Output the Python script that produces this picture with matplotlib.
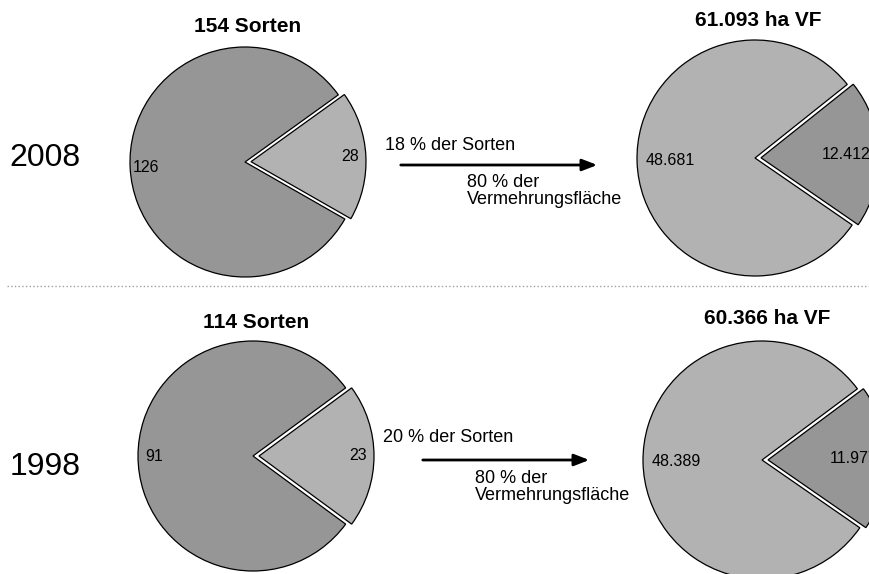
import matplotlib.pyplot as plt

plt.rcParams['font.family'] = ['Liberation Sans', 'DejaVu Sans']

# data
jahre = ['2008', '1998']
sorten = [[126, 28], [91, 23]]
flaeche = [[48681, 12412], [48389, 11977]]
sorten_titel = ['154 Sorten', '114 Sorten']
flaeche_titel = ['61.093 ha VF', '60.366 ha VF']
sorten_labels = [['126', '28'], ['91', '23']]
flaeche_labels = [['48.681', '12.412'], ['48.389', '11.977']]
anteil_sorten = ['18 % der Sorten', '20 % der Sorten']
anteil_flaeche = ['80 % der\nVermehrungsfläche', '80 % der\nVermehrungsfläche']

dunkel = '#969696'
hell = '#b2b2b2'

W, H = 869, 574
fig = plt.figure(figsize=(W / 100, H / 100), dpi=100)
ax = fig.add_axes([0, 0, 1, 1])


def torte(vals, labels, cx, cy, r, cols, mitte, pctd):
    small = 360.0 * vals[1] / sum(vals)
    it = iter(labels)
    ax.pie(vals, colors=cols, radius=r, center=(cx, H - cy),
           startangle=mitte + small / 2, explode=[0, 6],
           autopct=lambda p: next(it), pctdistance=pctd,
           wedgeprops=dict(edgecolor='black', linewidth=0.9),
           textprops=dict(fontsize=11.5, color='black'))


# (center x, center y, radius) per row, in pixels
links = [(245, 162, 115), (253, 456, 115)]
rechts = [(755, 158, 118), (762, 460, 119)]
mitten_l = [3, 0]
mitten_r = [2, 1]

for i in range(2):
    cx, cy, r = links[i]
    torte(sorten[i], sorten_labels[i], cx, cy, r, [dunkel, hell], mitten_l[i], 0.86)
    cx, cy, r = rechts[i]
    torte(flaeche[i], flaeche_labels[i], cx, cy, r, [hell, dunkel], mitten_r[i], 0.72)

ax.set_xlim(0, W)
ax.set_ylim(0, H)
ax.set_aspect('auto')
ax.axis('off')

# year labels
for y, j in zip([158, 467], jahre):
    ax.text(45, H - y, j, fontsize=23, ha='center', va='center')

# titles
for (x, y), t in zip([(248, 26), (256, 322)], sorten_titel):
    ax.text(x, H - y, t, fontsize=15, fontweight='bold', ha='center', va='center')
for (x, y), t in zip([(758, 20), (767, 318)], flaeche_titel):
    ax.text(x, H - y, t, fontsize=15, fontweight='bold', ha='center', va='center')

# arrows with texts
pfeile = [(398, 600, 165, 385, 145, 467, 191), (420, 592, 460, 383, 437, 475, 487)]
for i, (x0, x1, y, tx, ty, fx, fy) in enumerate(pfeile):
    ax.annotate('', xy=(x1, H - y), xytext=(x0, H - y),
                arrowprops=dict(arrowstyle='-|>,head_length=0.9,head_width=0.35',
                                color='black', lw=2))
    ax.text(tx, H - ty, anteil_sorten[i], fontsize=13, ha='left', va='center')
    ax.text(fx, H - fy, anteil_flaeche[i], fontsize=13, ha='left', va='center',
            linespacing=1.0)

# divider
ax.plot([7, W], [H - 286, H - 286], color='#a0a0a0', lw=1, ls=':')

fig.savefig('out.png', dpi=100)
